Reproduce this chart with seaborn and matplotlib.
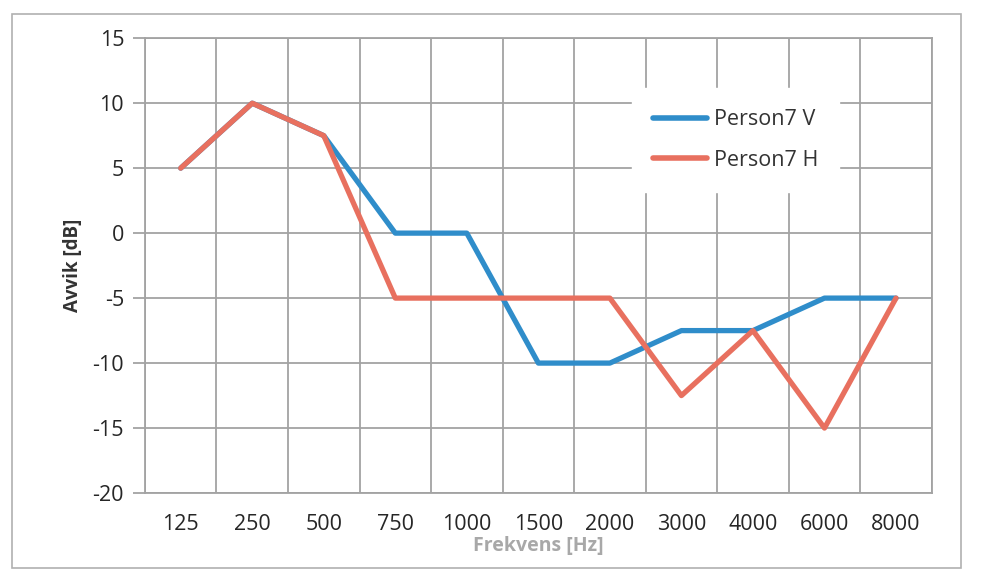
import matplotlib
matplotlib.use("Agg")
import matplotlib.pyplot as plt
import seaborn as sns
import pandas as pd
from matplotlib.patches import Rectangle
from matplotlib.ticker import FixedLocator

freqs = ["125", "250", "500", "750", "1000", "1500", "2000", "3000", "4000", "6000", "8000"]
person_v = [5, 10, 7.5, 0, 0, -10, -10, -7.5, -7.5, -5, -5]
person_h = [5, 10, 7.5, -5, -5, -5, -5, -12.5, -7.5, -15, -5]
series_names = ["Person7 V", "Person7 H"]
y_ticks = [15, 10, 5, 0, -5, -10, -15, -20]

df = pd.DataFrame({
    "Frekvens": freqs * 2,
    "Avvik": person_v + person_h,
    "Serie": [series_names[0]] * len(freqs) + [series_names[1]] * len(freqs),
})

sns.set_theme(style="white")
plt.rcParams['font.family'] = ['Open Sans', 'DejaVu Sans']
plt.rcParams['axes.unicode_minus'] = False

fig = plt.figure(figsize=(9.86, 5.70), dpi=100)
ax = fig.add_axes([0.147, 0.135, 0.798, 0.798])

grid_c = "#a3a3a3"
sns.lineplot(data=df, x="Frekvens", y="Avvik", hue="Serie", sort=False,
             palette={"Person7 V": "#2f8dca", "Person7 H": "#e8705f"},
             linewidth=3.8, ax=ax, zorder=3)

ax.set_xlim(-0.5, len(freqs) - 0.5)
ax.set_ylim(-20, 15)
ax.set_yticks(y_ticks)
ax.xaxis.set_minor_locator(FixedLocator([i + 0.5 for i in range(-1, len(freqs))]))
ax.grid(True, which="minor", axis="x", color=grid_c, linewidth=1.3)
ax.grid(True, which="major", axis="y", color=grid_c, linewidth=1.3)
ax.grid(False, which="major", axis="x")
for s in ax.spines.values():
    s.set_color(grid_c)
    s.set_linewidth(1.3)

ax.tick_params(axis="y", which="major", length=9, width=1.3, color=grid_c,
               labelsize=15.5, labelcolor="#262626", pad=6, left=True)
ax.tick_params(axis="x", which="both", length=0, labelsize=15.5,
               labelcolor="#262626", pad=15)

ax.set_ylabel("Avvik [dB]", fontsize=13.5, fontweight="bold", color="#333333", labelpad=7)
ax.set_xlabel("Frekvens [Hz]", fontsize=14, fontweight="bold", color="#a8a8a8", labelpad=1)

leg = ax.legend(loc="upper left", bbox_to_anchor=(0.605, 0.915), frameon=True,
                fontsize=15.5, handlelength=2.5, labelspacing=0.9,
                borderpad=1.0, handletextpad=0.3)
leg.get_frame().set_facecolor("white")
leg.get_frame().set_edgecolor("white")
leg.get_frame().set_alpha(1)
for t in leg.get_texts():
    t.set_color("#333333")
for l in leg.get_lines():
    l.set_linewidth(4)

fig.patches.append(Rectangle((0.012, 0.004), 0.963, 0.972, transform=fig.transFigure,
                             fill=False, edgecolor="#b0b0b0", linewidth=1.2))

fig.savefig("out.png", dpi=100)
